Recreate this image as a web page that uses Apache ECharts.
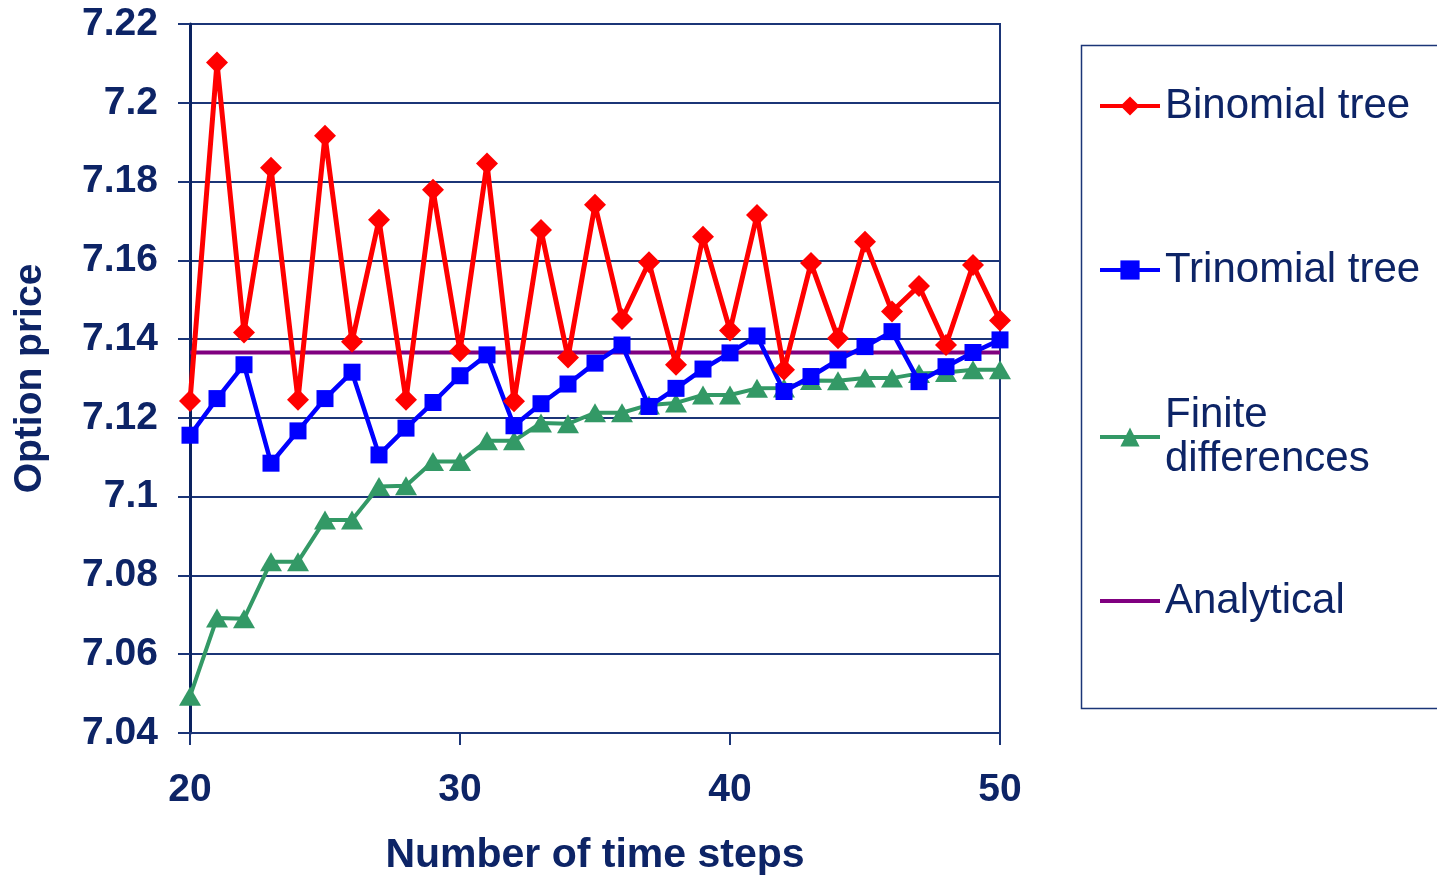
<!DOCTYPE html>
<html>
<head>
<meta charset="utf-8">
<title>Option price vs number of time steps</title>
<script src="https://cdn.jsdelivr.net/npm/echarts@6/dist/echarts.min.js"></script>
<style>
  html, body { margin: 0; padding: 0; background: #ffffff; }
  #chart { width: 1437px; height: 876px; }
</style>
</head>
<body>
<div id="chart"></div>
<script>
// Number of time steps
const steps = [20, 21, 22, 23, 24, 25, 26, 27, 28, 29, 30, 31, 32, 33, 34, 35,
               36, 37, 38, 39, 40, 41, 42, 43, 44, 45, 46, 47, 48, 49, 50];

// Option prices from each method
const binomial = [7.1243, 7.2102, 7.1417, 7.1835, 7.1246, 7.1916, 7.1393, 7.1703,
                  7.1246, 7.1779, 7.1369, 7.1846, 7.1242, 7.1677, 7.1353, 7.1741,
                  7.1451, 7.1595, 7.1335, 7.1660, 7.1422, 7.1715, 7.1322, 7.1593,
                  7.1402, 7.1647, 7.1470, 7.1535, 7.1385, 7.1588, 7.1447];
const trinomial = [7.1156, 7.1249, 7.1335, 7.1085, 7.1167, 7.1249, 7.1316, 7.1106,
                   7.1174, 7.1239, 7.1307, 7.1360, 7.1180, 7.1236, 7.1286, 7.1339,
                   7.1385, 7.1229, 7.1275, 7.1324, 7.1365, 7.1408, 7.1267, 7.1305,
                   7.1347, 7.1381, 7.1419, 7.1292, 7.1330, 7.1366, 7.1398];
const finiteDiff = [7.0493, 7.0692, 7.0690, 7.0835, 7.0835, 7.0941, 7.0941, 7.1026,
                    7.1028, 7.1089, 7.1089, 7.1142, 7.1142, 7.1187, 7.1185, 7.1213,
                    7.1213, 7.1233, 7.1238, 7.1258, 7.1258, 7.1275, 7.1276, 7.1295,
                    7.1294, 7.1301, 7.1301, 7.1313, 7.1315, 7.1322, 7.1322];
const analyticalSteps = [20, 50];
const analytical = [7.1366, 7.1366];

const seriesNames = ['Binomial tree', 'Trinomial tree', 'Finite differences', 'Analytical'];

const NAVY = '#0d2466';
const GRID_NAVY = '#1b3577';
const FONT = '"Liberation Sans", Arial, Helvetica, sans-serif';

const pairs = (xs, ys) => xs.map((x, i) => [x, ys[i]]);

const chart = echarts.init(document.getElementById('chart'), null, { renderer: 'canvas' });

const legendText = {
  color: NAVY,
  fontFamily: FONT,
  fontSize: 42,
  lineHeight: 44
};

// one legend block per entry so each sits at its own height inside the frame
function legendBlock(name, top, extra) {
  return Object.assign({
    data: [name],
    orient: 'vertical',
    left: 1098,
    top: top,
    padding: 0,
    itemWidth: 60,
    itemHeight: 24,
    selectedMode: false,
    lineStyle: { width: 4 },
    textStyle: legendText
  }, extra || {});
}

const option = {
  backgroundColor: '#ffffff',
  animation: false,
  grid: {
    left: 190,
    right: 437,
    top: 24,
    bottom: 143,
    outerBoundsMode: 'none',
    show: true,
    borderColor: GRID_NAVY,
    borderWidth: 2,
    backgroundColor: '#ffffff'
  },
  legend: [
    legendBlock(seriesNames[0], 84),
    legendBlock(seriesNames[1], 248),
    legendBlock(seriesNames[2], 371, {
      formatter: () => 'Finite\ndifferences',
      textStyle: Object.assign({}, legendText, { padding: [44, 0, 0, 0] })
    }),
    legendBlock(seriesNames[3], 579, { itemStyle: { opacity: 0 } })
  ],
  graphic: [
    {
      type: 'rect',
      left: 1079,
      top: 43,
      shape: { width: 420, height: 663 },
      style: { fill: 'none', stroke: GRID_NAVY, lineWidth: 1.5 },
      silent: true
    }
  ],
  xAxis: {
    type: 'value',
    min: 20,
    max: 50,
    interval: 10,
    name: 'Number of time steps',
    nameLocation: 'middle',
    nameGap: 102,
    nameTextStyle: { color: NAVY, fontFamily: FONT, fontSize: 41, fontWeight: 'bold' },
    axisLine: { show: true, lineStyle: { color: GRID_NAVY, width: 2 } },
    axisTick: { show: true, length: 12, lineStyle: { color: GRID_NAVY, width: 2 } },
    axisLabel: { color: NAVY, fontFamily: FONT, fontSize: 39, fontWeight: 'bold', margin: 38 },
    splitLine: { show: false }
  },
  yAxis: {
    type: 'value',
    min: 7.04,
    max: 7.22,
    interval: 0.02,
    name: 'Option price',
    nameLocation: 'middle',
    nameGap: 140,
    nameRotate: 90,
    nameTextStyle: { color: NAVY, fontFamily: FONT, fontSize: 39, fontWeight: 'bold' },
    axisLine: { show: true, lineStyle: { color: '#0a2260', width: 3 } },
    axisTick: { show: true, length: 12, lineStyle: { color: GRID_NAVY, width: 2 } },
    axisLabel: {
      color: NAVY, fontFamily: FONT, fontSize: 39, fontWeight: 'bold', margin: 32,
      formatter: v => String(+v.toFixed(2))
    },
    splitLine: { show: true, lineStyle: { color: GRID_NAVY, width: 2 } }
  },
  series: [
    {
      name: seriesNames[3],
      type: 'line',
      z: 1,
      data: pairs(analyticalSteps, analytical),
      symbol: 'none',
      lineStyle: { color: '#800080', width: 4 },
      itemStyle: { color: '#800080' }
    },
    {
      name: seriesNames[2],
      type: 'line',
      z: 2,
      data: pairs(steps, finiteDiff),
      symbol: 'triangle',
      symbolSize: [22, 19],
      lineStyle: { color: '#339966', width: 4 },
      itemStyle: { color: '#339966' }
    },
    {
      name: seriesNames[1],
      type: 'line',
      z: 3,
      data: pairs(steps, trinomial),
      symbol: 'rect',
      symbolSize: 17,
      lineStyle: { color: '#0000ff', width: 4.5 },
      itemStyle: { color: '#0000ff' }
    },
    {
      name: seriesNames[0],
      type: 'line',
      z: 4,
      data: pairs(steps, binomial),
      symbol: 'diamond',
      symbolSize: [22, 22],
      lineStyle: { color: '#ff0000', width: 5 },
      itemStyle: { color: '#ff0000' }
    }
  ]
};

chart.setOption(option);
</script>
</body>
</html>
